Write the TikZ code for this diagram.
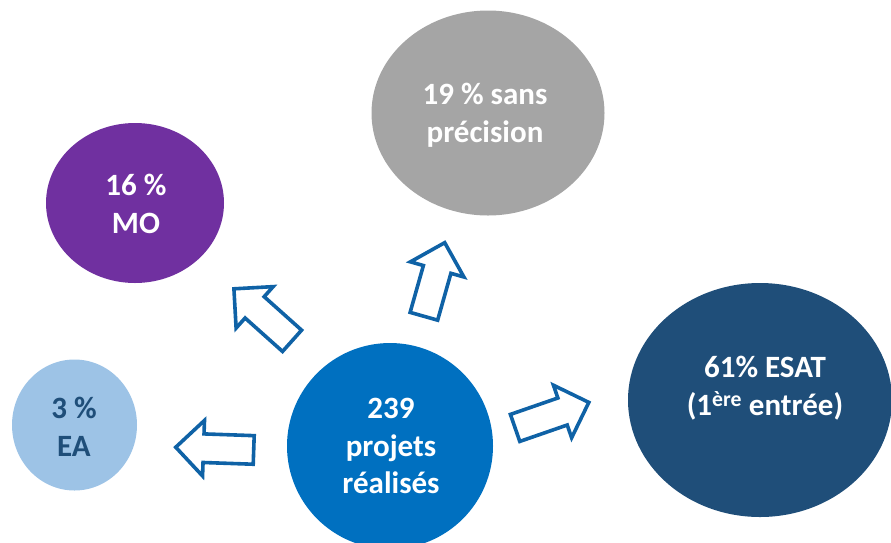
\documentclass[tikz,border=0pt]{standalone}
\usepackage{fontspec}
\setmainfont{Carlito}
\usetikzlibrary{shapes.arrows,shapes.geometric}
\definecolor{centreblue}{HTML}{0070C0}
\definecolor{lightblue}{HTML}{9DC3E6}
\definecolor{violet}{HTML}{7030A0}
\definecolor{midgray}{HTML}{A5A5A5}
\definecolor{navy}{HTML}{1F4E79}
\definecolor{arrowblue}{HTML}{0F62A6}
\tikzset{
  label/.style={align=center, font=\bfseries\fontsize{31}{37.5}\selectfont, text=white},
  outarrow/.style={single arrow, draw=arrowblue, fill=white, line width=3.6pt,
    inner xsep=0pt, inner ysep=12.5pt, single arrow head extend=13.5pt,
    single arrow tip angle=90, minimum height=78pt, anchor=tail},
}
\begin{document}
\begin{tikzpicture}[x=1pt,y=-1pt]
  \useasboundingbox (0,0) rectangle (891,542);

  % coloured bubbles
  \fill[midgray]    (488,113) ellipse [x radius=116.5, y radius=102.5];
  \fill[violet]     (135,203) ellipse [x radius=89, y radius=80];
  \fill[lightblue]  (74.5,425) ellipse [x radius=62.5, y radius=65.5];
  \fill[navy]       (760,400) ellipse [x radius=132, y radius=117];
  \fill[centreblue] (390,446) circle [radius=103];

  % labels
  \node[label] (total) at (391,446) {239\\projets\\réalisés};
  \node[label] (sans)  at (485,115) {19 \% sans\\précision};
  \node[label] (mo)    at (136,204) {16 \%\\MO};
  \node[label, text=navy] (ea) at (74,427) {3 \%\\EA};
  \node[label] (esat)  at (765,388) {61\% ESAT\\(1\textsuperscript{ère} entrée)};

  % outward block arrows, placed by the middle of their tails
  \node[outarrow, rotate=178]   (toea)   at (255.5,450) {};
  \node[outarrow, rotate=138.2] (tomo)   at (293.4,342) {};
  \node[outarrow, rotate=74.2, minimum height=76.5pt] (tosans) at (423.4,318) {};
  \node[outarrow, rotate=19.1]  (toesat) at (513.4,428.5) {};
\end{tikzpicture}
\end{document}
